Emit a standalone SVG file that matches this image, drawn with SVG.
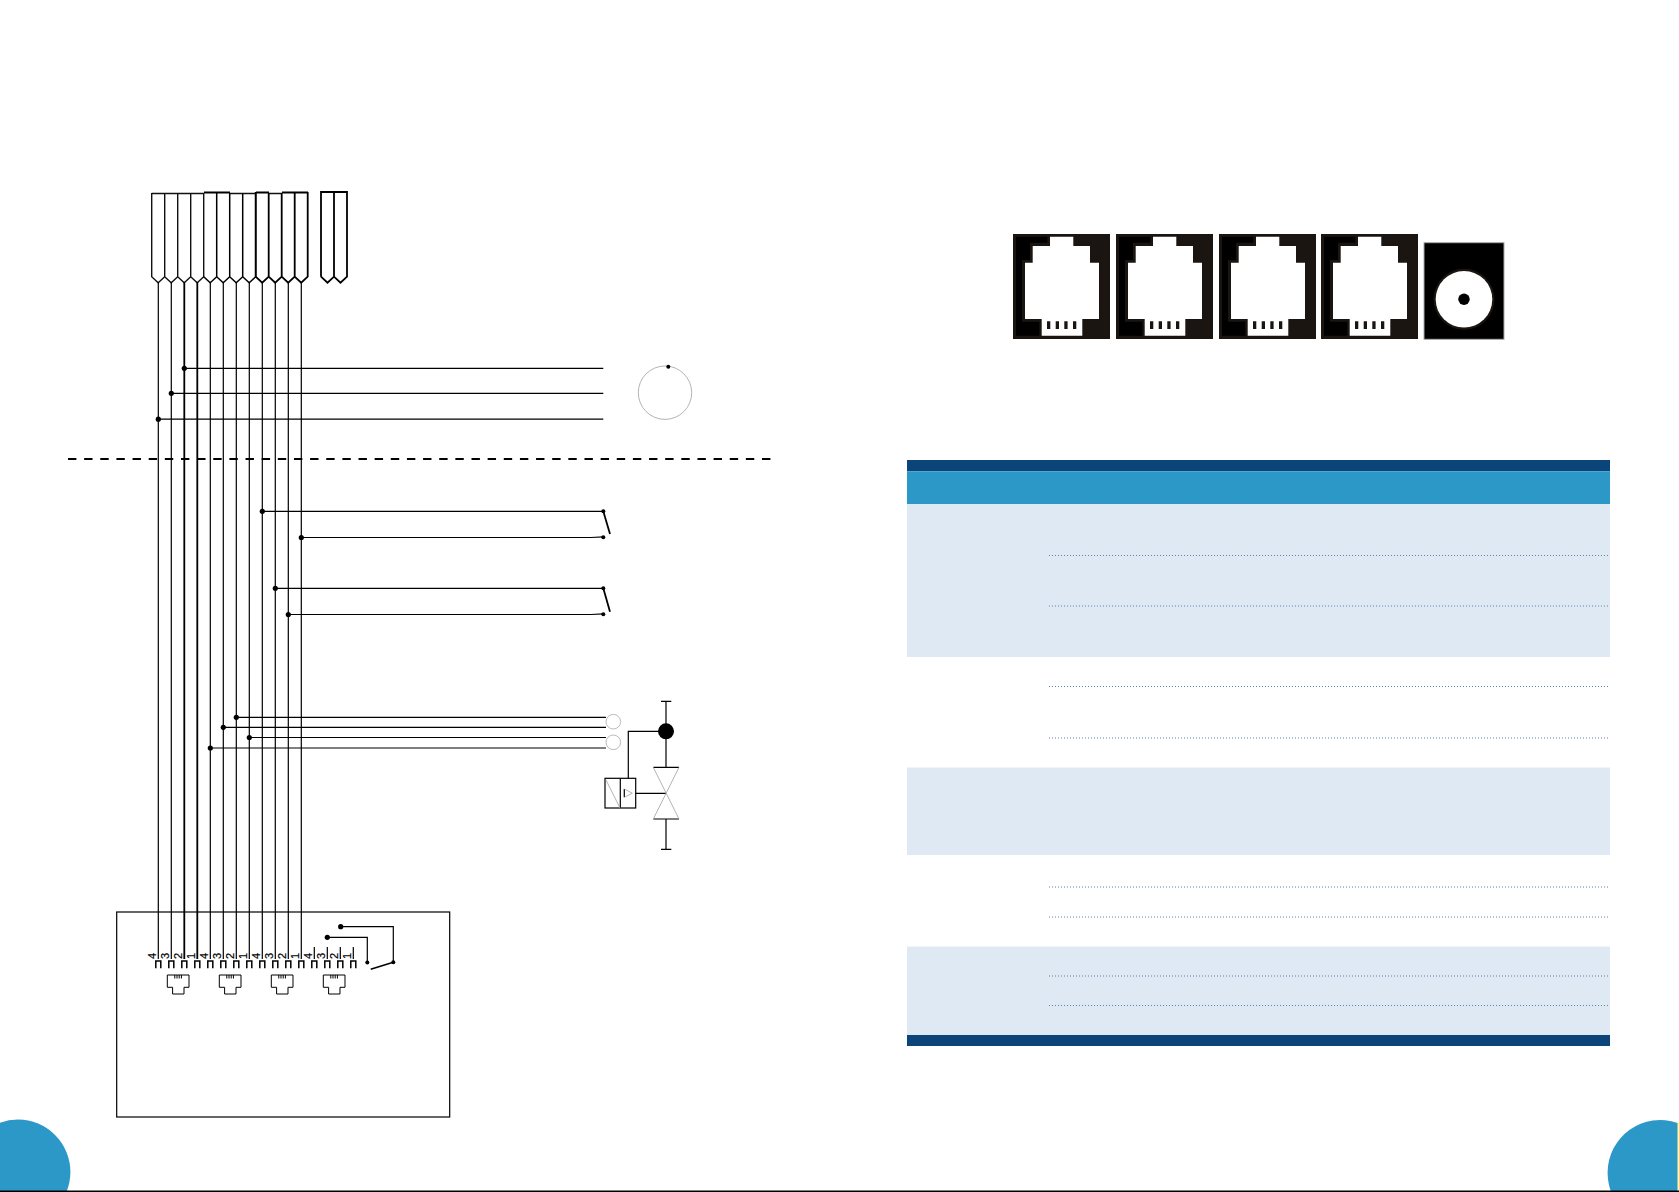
<svg xmlns="http://www.w3.org/2000/svg" width="1679" height="1192" viewBox="0 0 1679 1192">
<style>
.w{fill:none;stroke:#000;stroke-width:1.2}
.t{fill:none;stroke:#000;stroke-width:1}
.b{fill:none;stroke:#000;stroke-width:1.8}
.g{fill:none;stroke:#aaa;stroke-width:.9}
.p{fill:none;stroke:#111;stroke-width:1.4}
.k{fill:none;stroke:#000;stroke-width:1.5}
.d{fill:#000}
.n{font-family:"Liberation Sans",Arial,sans-serif;font-size:11px;fill:#000;stroke:#000;stroke-width:.2;text-anchor:middle}
.j{fill:#1a1510}
.jb{fill:#000}
.jw{fill:#fff}
.dot{fill:none;stroke:#5d83ad;stroke-width:1;stroke-dasharray:1 2}
</style>
<defs>
<g id="jack">
<rect class="j" width="97" height="105"/>
<path class="jb" d="M3 2.7H34.3V8.7H17V26H9V87.7H26.3V101.7H3Z"/>
<path class="jw" d="M37 2.7H60.3V12H77V28.7H86V85H69.3V101.7H28.7V85H12V28.7H19.7V12H37Z"/>
<path class="j" d="M34 87.3h3.3V95H34ZM42.7 87.3H46V95H42.7ZM51.3 87.3h3.3V95H51.3ZM60 87.3h3.3V95H60Z"/>
</g>
<g id="rj">
<path class="t" d="M0 0H21.7V12.3H16.7V19H5.3V12.3H0Z"/>
<path class="t" d="M7.5 0V3.5M9.7 0V3.5M11.9 0V3.5M14.1 0V3.5"/>
</g>
<path id="pin" class="k" d="M-2.5 968.3V961H2.5V968.3"/>
</defs>
<rect width="1679" height="1192" fill="#fff"/>

<g id="connector-top">
<path class="p" d="M151.7 193.5H204M230 193.5H256M269 193.5H282"/>
<path class="b" d="M204 192.5H230M256 192.5H269M282 192.5H308"/>
<path class="p" d="M151.7 193V276.7L158.2 282.7L164.7 276.7V193M177.7 193V276.7L171.2 282.7L164.7 276.7M177.7 276.7L184.2 282.7L190.7 276.7V193M190.7 276.7L197.2 282.7L203.7 276.7V193"/>
<path class="k" d="M203.7 276.7L210.2 282.7L216.7 276.7V193M216.7 276.7L223.2 282.7L229.7 276.7V193M229.7 276.7L236.2 282.7L242.7 276.7V193M242.7 276.7L249.2 282.7L255.7 276.7V193"/>
<path class="b" d="M255.7 192V276.7L262.2 282.7L268.7 276.7V193M268.7 276.7L275.2 282.7L281.7 276.7V193M281.7 276.7L288.2 282.7L294.7 276.7V192M294.7 276.7L301.2 282.7L307.7 276.7V192"/>
</g>
<g id="connector-top-2">
<path class="b" d="M321 276.7V192H347V276.7L340.5 282.7L334 276.7L327.5 282.7L321 276.7M334 192V276.7"/>
</g>

<g id="connectors">
<path class="w" d="M158.3 282V959M171.3 282V959M210.3 282V959M223.3 282V959M236.3 282V959M249.3 282V959M262.3 282V959M275.3 282V959M288.3 282V959M301.3 282V959"/>
<path class="b" d="M184.3 282V959M197.3 282V959"/>
<path class="w" d="M184.3 368.3H603.3M171.3 393.3H603.3M158.3 419.2H603.3"/>
<path class="w" d="M262.3 511.3H603.3M301.3 537.5H591L603.3 536.8M275.3 588.3H603.3M288.3 614.5H591L603.3 613.8"/>
<path class="w" d="M236.3 717.3H606M223.3 727.3H606M249.3 737.5H606M210.3 748H606"/>
<g class="d">
<circle cx="184.3" cy="368.3" r="2.6"/><circle cx="171.3" cy="393.3" r="2.6"/><circle cx="158.3" cy="419.2" r="2.6"/>
<circle cx="262.3" cy="511.3" r="2.6"/><circle cx="301.3" cy="537.5" r="2.6"/><circle cx="275.3" cy="588.3" r="2.6"/><circle cx="288.3" cy="614.5" r="2.6"/>
<circle cx="236.3" cy="717.3" r="2.6"/><circle cx="223.3" cy="727.3" r="2.6"/><circle cx="249.3" cy="737.5" r="2.6"/><circle cx="210.3" cy="748" r="2.6"/>
</g>
<path fill="none" stroke="#000" stroke-width="2.2" stroke-dasharray="8.4 7.74" d="M68 459H773"/>
</g>

<g id="sensor"><circle class="g" cx="665" cy="392.7" r="26.7"/><circle class="d" cx="668.3" cy="366.7" r="2"/></g>

<g id="switch-1">
<circle class="d" cx="603.3" cy="511.3" r="2"/><circle class="d" cx="603.3" cy="537.3" r="2"/>
<path class="b" d="M603.3 511.3L610 534"/>
</g>
<g id="switch-2">
<circle class="d" cx="603.3" cy="588.3" r="2"/><circle class="d" cx="603.3" cy="614.3" r="2"/>
<path class="b" d="M603.3 588.3L610 611.7"/>
</g>

<g id="lamps"><circle cx="613.3" cy="721.7" r="7.3" fill="#fff" stroke="#bbb"/><circle cx="613.3" cy="742.3" r="7.3" fill="#fff" stroke="#bbb"/></g>

<g id="valve">
<path class="w" d="M661 701.3H671.3M666 701.3V767.3M653.3 767.3H679M653.3 819H679M666 819V849.3M661 849.3H671.3M666 731.3H628.3V778.3M635.7 793.3H666"/>
<circle class="d" cx="666" cy="731.3" r="8"/>
<path class="g" d="M653.3 767.3L679 819M679 767.3L653.3 819"/>
<rect class="w" x="605" y="778.3" width="30.7" height="29.7"/>
<path class="w" d="M620.3 778.3V808"/>
<path class="g" d="M606 780L620 808"/>
<path class="w" d="M624.3 789V797.3"/>
<path class="g" d="M624.3 789L632.3 793.2L624.3 797.3"/>
</g>

<g id="controller">
<rect x="116.7" y="912" width="333" height="205" fill="none" stroke="#000" stroke-width="1.2"/>
<path class="w" d="M314.3 947V959M327.3 947V959M340.3 947V959M353.3 947V959"/>
<use href="#pin" x="158.3"/><use href="#pin" x="171.3"/><use href="#pin" x="184.3"/><use href="#pin" x="197.3"/><use href="#pin" x="210.3"/><use href="#pin" x="223.3"/><use href="#pin" x="236.3"/><use href="#pin" x="249.3"/><use href="#pin" x="262.3"/><use href="#pin" x="275.3"/><use href="#pin" x="288.3"/><use href="#pin" x="301.3"/><use href="#pin" x="314.3"/><use href="#pin" x="327.3"/><use href="#pin" x="340.3"/><use href="#pin" x="353.3"/>
<text class="n" transform="translate(155.5,956) rotate(-90)">4</text>
<text class="n" transform="translate(168.5,956) rotate(-90)">3</text>
<text class="n" transform="translate(181.5,956) rotate(-90)">2</text>
<text class="n" transform="translate(194.5,956) rotate(-90)">1</text>
<text class="n" transform="translate(207.5,956) rotate(-90)">4</text>
<text class="n" transform="translate(220.5,956) rotate(-90)">3</text>
<text class="n" transform="translate(233.5,956) rotate(-90)">2</text>
<text class="n" transform="translate(246.5,956) rotate(-90)">1</text>
<text class="n" transform="translate(259.5,956) rotate(-90)">4</text>
<text class="n" transform="translate(272.5,956) rotate(-90)">3</text>
<text class="n" transform="translate(285.5,956) rotate(-90)">2</text>
<text class="n" transform="translate(298.5,956) rotate(-90)">1</text>
<text class="n" transform="translate(311.5,956) rotate(-90)">4</text>
<text class="n" transform="translate(324.5,956) rotate(-90)">3</text>
<text class="n" transform="translate(337.5,956) rotate(-90)">2</text>
<text class="n" transform="translate(350.5,956) rotate(-90)">1</text>
<use href="#rj" x="167.3" y="975"/><use href="#rj" x="219.3" y="975"/><use href="#rj" x="271.3" y="975"/><use href="#rj" x="323.3" y="975"/>
<path class="w" d="M340.7 926.7H393.3V962.3M327.3 937.3H367.3V962.3"/>
<circle class="d" cx="340.7" cy="926.7" r="2.6"/><circle class="d" cx="327.3" cy="937.3" r="2.6"/>
<circle class="d" cx="393.3" cy="962.3" r="2"/><circle class="d" cx="367.3" cy="962.5" r="2"/>
<path class="k" d="M370.7 969.3L393.3 962.3"/>
</g>

<g id="jacks">
<use href="#jack" x="1013" y="234"/><use href="#jack" x="1116" y="234"/><use href="#jack" x="1219" y="234"/><use href="#jack" x="1321" y="234"/>
<g id="dc-jack">
<rect x="1424" y="242.7" width="80" height="96.6" fill="#000" stroke="#aaa" stroke-width="1"/>
<circle class="j" cx="1464" cy="299.3" r="30.5"/><circle class="jw" cx="1464" cy="299.3" r="28.3"/><circle class="d" cx="1464" cy="299.3" r="5.7"/>
</g>
</g>

<g id="table">
<rect x="907" y="460" width="703" height="11.3" fill="#0a4478"/>
<rect x="907" y="471.3" width="703" height="32.7" fill="#2c98c8"/>
<rect x="907" y="504" width="703" height="153" fill="#dfe9f4"/>
<rect x="907" y="767.5" width="703" height="87.5" fill="#dfe9f4"/>
<rect x="907" y="946.6" width="703" height="88.4" fill="#dfe9f4"/>
<rect x="907" y="1035" width="703" height="11" fill="#0a4478"/>
<path class="dot" d="M1049 555.5H1610M1049 606H1610M1049 686.5H1610M1049 738H1610M1049 887H1610M1049 917H1610M1049 976H1610M1049 1005.5H1610"/>
<path class="dot" stroke-opacity=".5" d="M1049 503.5H1610"/>
</g>

<g id="page-marks">
<circle cx="18" cy="1172" r="52.4" fill="#2c98c8"/>
<path d="M1678 1122V1190" stroke="#ff0" stroke-width="1"/>
<path fill="#2c98c8" d="M1677.5 1122.9A52.7 52.7 0 1 0 1677.5 1222.5Z"/>
<path d="M0 1191.3H1679" stroke="#000" stroke-width="1.4"/>
</g>
</svg>
